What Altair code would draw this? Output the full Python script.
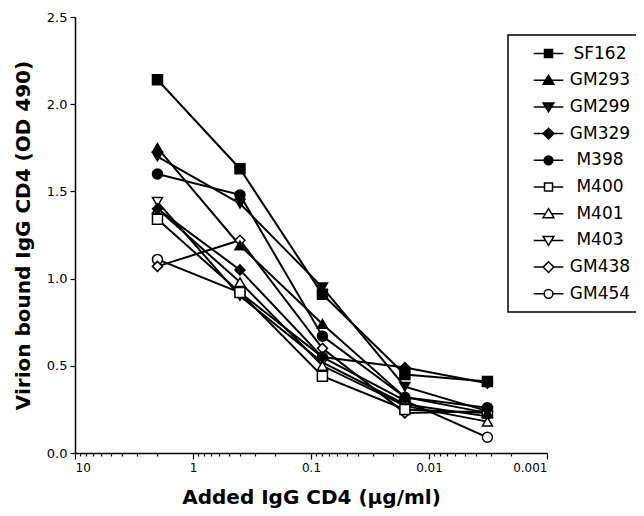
import altair as alt
import pandas as pd

# ---- data ----
conc = [2, 0.4, 0.08, 0.016, 0.0032]
series = ["SF162", "GM293", "GM299", "GM329", "M398",
          "M400", "M401", "M403", "GM438", "GM454"]
SF162 = [2.14, 1.63, 0.91, 0.45, 0.41]
GM293 = [1.75, 1.19, 0.74, 0.32, 0.23]
GM299 = [1.70, 1.43, 0.95, 0.38, 0.24]
GM329 = [1.40, 1.05, 0.55, 0.49, 0.40]
M398 = [1.60, 1.48, 0.67, 0.32, 0.26]
M400 = [1.34, 0.92, 0.44, 0.25, 0.23]
M401 = [1.40, 0.98, 0.50, 0.27, 0.18]
M403 = [1.44, 0.90, 0.52, 0.28, 0.21]
GM438 = [1.07, 1.22, 0.60, 0.23, 0.24]
GM454 = [1.11, 0.92, 0.55, 0.30, 0.09]
all_values = [SF162, GM293, GM299, GM329, M398, M400, M401, M403, GM438, GM454]

x_major = [10, 1, 0.1, 0.01, 0.001]
x_minor = [9, 8, 7, 6, 5, 4, 3, 2,
           0.9, 0.8, 0.7, 0.6, 0.5, 0.4, 0.3, 0.2,
           0.09, 0.08, 0.07, 0.06, 0.05, 0.04, 0.03, 0.02,
           0.009, 0.008, 0.007, 0.006, 0.005, 0.004, 0.003, 0.002]
y_ticks = [0.0, 0.5, 1.0, 1.5, 2.0, 2.5]

plot_shapes = ["square", "triangle-up", "triangle-down", "diamond", "circle",
               "square", "triangle-up", "triangle-down", "diamond", "circle"]
fills = ["black"] * 5 + ["white"] * 5
strokes = ["black"] * 10

# legend symbols: line through marker
sq = "M-3.7,0H-1M1,0H3.7M-1,-1H1V1H-1Z"
tu = "M-3.7,0H-0.71M0.71,0H3.7M0,-1.25L1.35,1H-1.35Z"
td = "M-3.7,0H-0.71M0.71,0H3.7M0,1.25L1.35,-1H-1.35Z"
di = "M-3.7,0H-1.35M1.35,0H3.7M0,-1.35L1.35,0L0,1.35L-1.35,0Z"
ci = "M-3.7,0H-1.1M1.1,0H3.7M-1.1,0A1.1,1.1,0,1,1,1.1,0A1.1,1.1,0,1,1,-1.1,0Z"
legend_shapes = [sq, tu, td, di, ci, sq, tu, td, di, ci]

rows = []
for idx, (name, vals) in enumerate(zip(series, all_values)):
    for c, v in zip(conc, vals):
        rows.append({"series": name, "conc": c, "value": v, "rank": idx})
df = pd.DataFrame(rows)

FONT = "DejaVu Sans"

xscale = alt.Scale(type="log", domain=[0.001, 10], reverse=True, nice=False)
yscale = alt.Scale(domain=[0, 2.5], nice=False)

base = alt.Chart(df)

lines = base.mark_line(color="black", strokeWidth=2).encode(
    x=alt.X("conc:Q", scale=xscale,
            axis=alt.Axis(values=x_major, format="~g", tickSize=6, orient="bottom",
                          labelFontSize=12, labelPadding=3,
                          title="Added IgG CD4 (\u00b5g/ml)",
                          titleFontSize=20, titleFontWeight="bold",
                          titlePadding=14)),
    y=alt.Y("value:Q", scale=yscale,
            axis=alt.Axis(values=y_ticks, format=".1f", tickSize=5,
                          labelFontSize=13, labelPadding=3,
                          title="Virion bound IgG CD4 (OD 490)",
                          titleFontSize=20, titleFontWeight="bold",
                          titlePadding=13)),
    detail="series:N",
    order="conc:Q",
)

points = base.mark_point(filled=True, size=100, stroke="black", strokeWidth=1.5,
                         opacity=1).encode(
    x=alt.X("conc:Q", scale=xscale,
            axis=alt.Axis(values=x_minor, labels=False, tickSize=3, orient="bottom",
                          domain=False, title=None)),
    y=alt.Y("value:Q", scale=yscale, axis=None),
    shape=alt.Shape("series:N", scale=alt.Scale(domain=series, range=plot_shapes),
                    legend=None),
    fill=alt.Fill("series:N", scale=alt.Scale(domain=series, range=fills),
                  legend=None),
    order=alt.Order("rank:Q", sort="descending"),
)

leg = dict(title=None, orient="none", legendX=433, legendY=18,
           symbolStrokeColor="black", symbolStrokeWidth=1.5,
           symbolOffset=22, labelAlign="center", labelOffset=43)

legend_layer = base.transform_filter("datum.value < -1").mark_point(
    filled=True, strokeWidth=1.5, opacity=1).encode(
    x=alt.X("conc:Q", scale=xscale, axis=None),
    y=alt.Y("value:Q", scale=yscale, axis=None),
    shape=alt.Shape("series:N", scale=alt.Scale(domain=series, range=legend_shapes),
                    legend=alt.Legend(**leg)),
    fill=alt.Fill("series:N", scale=alt.Scale(domain=series, range=fills),
                  legend=alt.Legend(**leg)),
    stroke=alt.Stroke("series:N", scale=alt.Scale(domain=series, range=strokes),
                      legend=alt.Legend(**leg)),
)

chart = alt.layer(lines, points, legend_layer).resolve_scale(
    shape="independent", fill="independent", stroke="independent"
).resolve_axis(x="independent", y="independent").properties(
    width=472, height=436,
    autosize=alt.AutoSizeParams(type="none"),
    padding={"left": 67, "top": 9, "right": 89, "bottom": 55},
).configure_view(stroke=None).configure_axis(
    grid=False, domainColor="black", tickColor="black", labelColor="black",
    titleColor="black", labelFont=FONT, titleFont=FONT, domainWidth=1.5,
    tickWidth=1.2,
).configure_legend(
    strokeColor="black", strokeWidth=1.5, fillColor="white", padding=10,
    labelFont=FONT, labelFontSize=17, labelColor="black",
    symbolSize=64, symbolStrokeColor="black", symbolStrokeWidth=1.5,
    rowPadding=8.7,
)

chart.save("out.html", embed_options={"renderer": "svg", "actions": False})
